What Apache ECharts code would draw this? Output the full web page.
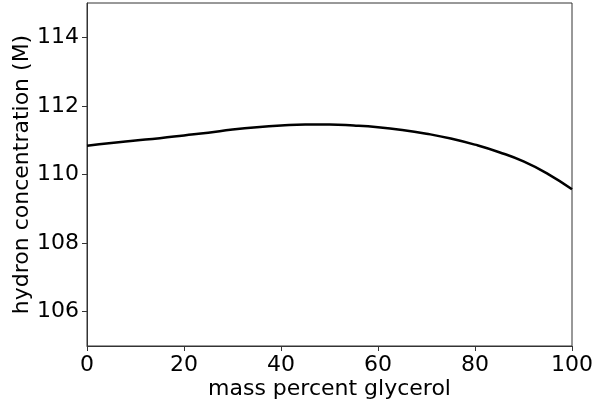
<!DOCTYPE html>
<html>
<head>
<meta charset="utf-8">
<script src="https://cdn.jsdelivr.net/npm/echarts@6/dist/echarts.min.js"></script>
<style>
  html,body{margin:0;padding:0;background:#fff;}
  #chart{width:594px;height:406px;}
</style>
</head>
<body>
<div id="chart"></div>
<script>
// mass percent glycerol
var massPercent = [0,5,10,15,20,25,30,35,40,45,50,55,60,65,70,75,80,85,90,95,100];
// hydron concentration (M)
var hydron = [110.84,110.92,110.99,111.06,111.14,111.22,111.31,111.38,111.43,111.46,111.46,111.43,111.38,111.30,111.19,111.05,110.87,110.65,110.38,110.02,109.57];
var xTicks = [0,20,40,60,80,100];
var yTicks = [106,108,110,112,114];

var points = massPercent.map(function(x,i){ return [x,hydron[i]]; });

var font = 'DejaVu Sans';
var ec = echarts.init(document.getElementById('chart'), null, {renderer:'canvas'});
ec.setOption({
  animation:false,
  grid:{left:87,right:22,top:3,bottom:60,outerBoundsMode:'none',containLabel:false,
    show:true,borderColor:'#333',borderWidth:1,backgroundColor:'transparent'},
  xAxis:{
    type:'value',min:0,max:100,interval:20,
    name:'mass percent glycerol',nameLocation:'middle',nameGap:32,nameMoveOverlap:false,
    nameTextStyle:{fontFamily:font,fontSize:22,color:'#000'},
    axisLine:{show:true,lineStyle:{color:'#333',width:1}},
    axisTick:{show:true,length:5,lineStyle:{color:'#333'},customValues:xTicks},
    axisLabel:{fontFamily:font,fontSize:22,color:'#000',margin:8,customValues:xTicks},
    splitLine:{show:false}
  },
  yAxis:{
    type:'value',min:105,max:115,
    name:'hydron concentration (M)',nameLocation:'middle',nameGap:54,nameMoveOverlap:false,
    nameTextStyle:{fontFamily:font,fontSize:22,color:'#000'},
    axisLine:{show:true,lineStyle:{color:'#333',width:1}},
    axisTick:{show:true,length:5,lineStyle:{color:'#333'},customValues:yTicks},
    axisLabel:{fontFamily:font,fontSize:22,color:'#000',margin:8,customValues:yTicks},
    splitLine:{show:false}
  },
  series:[{
    type:'line',data:points,smooth:true,showSymbol:false,
    lineStyle:{color:'#000',width:2.5}
  }]
});
</script>
</body>
</html>
